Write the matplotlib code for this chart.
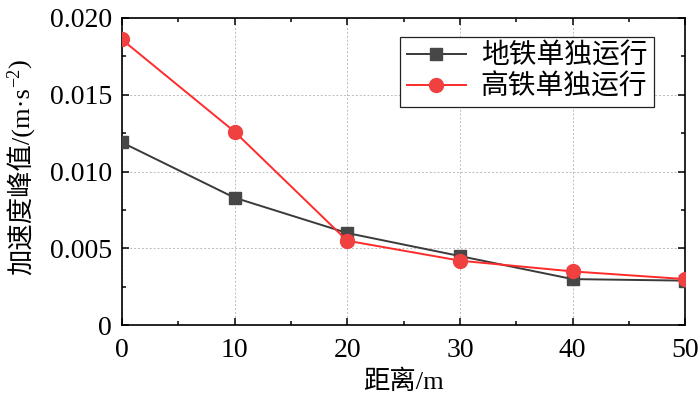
import matplotlib
matplotlib.use("Agg")
import matplotlib.pyplot as plt
from matplotlib.ticker import MultipleLocator, FixedLocator, FixedFormatter

plt.rcParams['font.family'] = ['Liberation Serif', 'Noto Sans CJK SC']
plt.rcParams['axes.unicode_minus'] = False

# data
distance = [0, 10, 20, 30, 40, 50]
metro_only = [0.0119, 0.0083, 0.0060, 0.0045, 0.0030, 0.0029]
hsr_only = [0.0186, 0.0126, 0.0055, 0.0042, 0.0035, 0.0030]
series_names = ['地铁单独运行', '高铁单独运行']
x_ticks = [0, 10, 20, 30, 40, 50]
y_ticks = [0, 0.005, 0.010, 0.015, 0.020]
y_tick_labels = ['0', '0.005', '0.010', '0.015', '0.020']

fig = plt.figure(figsize=(7, 3.99), dpi=100)
ax = fig.add_axes([0.174, 0.185, 0.805, 0.770])

ax.plot(distance, metro_only, color='#3a3a3a', lw=1.4, marker='s', ms=8,
        mfc='#474747', mec='#474747', label=series_names[0], zorder=3)
ax.plot(distance, hsr_only, color='#ff2a2a', lw=1.4, marker='o', ms=10,
        mfc='#f04040', mec='#f04040', label=series_names[1], zorder=4)

ax.set_xlim(0, 50)
ax.set_ylim(0, 0.020)
ax.xaxis.set_major_locator(FixedLocator(x_ticks))
ax.xaxis.set_minor_locator(MultipleLocator(5))
ax.yaxis.set_major_locator(FixedLocator(y_ticks))
ax.yaxis.set_major_formatter(FixedFormatter(y_tick_labels))
ax.yaxis.set_minor_locator(MultipleLocator(0.0025))
ax.tick_params(which='both', direction='in', top=True, right=True,
               labelsize=20, width=1.1)
ax.tick_params(which='major', length=5, pad=7)
ax.tick_params(axis='x', which='major', pad=9)
ax.tick_params(which='minor', length=3)
for s in ax.spines.values():
    s.set_linewidth(1.2)
ax.grid(True, which='major', ls=(0, (2, 2)), lw=0.7, color='#bbbbbb')

ax.set_xlabel('距离/m', fontsize=19, labelpad=5)

leg = ax.legend(loc='upper right', fontsize=20, frameon=True, fancybox=False,
                edgecolor='#222222', framealpha=1, borderpad=0.25,
                borderaxespad=0, handlelength=2.1, handletextpad=0.55,
                labelspacing=0.15, bbox_to_anchor=(0.945, 0.938))
leg.get_frame().set_linewidth(0.9)

# y label built in pieces so the superscript works with CJK text
fig.canvas.draw()
r = fig.canvas.get_renderer()
lx = 21 / 700
t1 = fig.text(lx, (399 - 275) / 399, '加速度峰值/(m·s', rotation=90,
              ha='center', va='bottom', fontsize=19)
fig.canvas.draw()
b1 = t1.get_window_extent(r)
inv = fig.transFigure.inverted()
top1 = inv.transform((0, b1.y1))[1]
t2 = fig.text(lx - 6 / 700, top1, '−2', rotation=90, ha='center', va='bottom',
              fontsize=13)
fig.canvas.draw()
b2 = t2.get_window_extent(r)
top2 = inv.transform((0, b2.y1))[1]
fig.text(lx, top2, ')', rotation=90, ha='center', va='bottom', fontsize=19)

fig.savefig('out.png', dpi=100)
